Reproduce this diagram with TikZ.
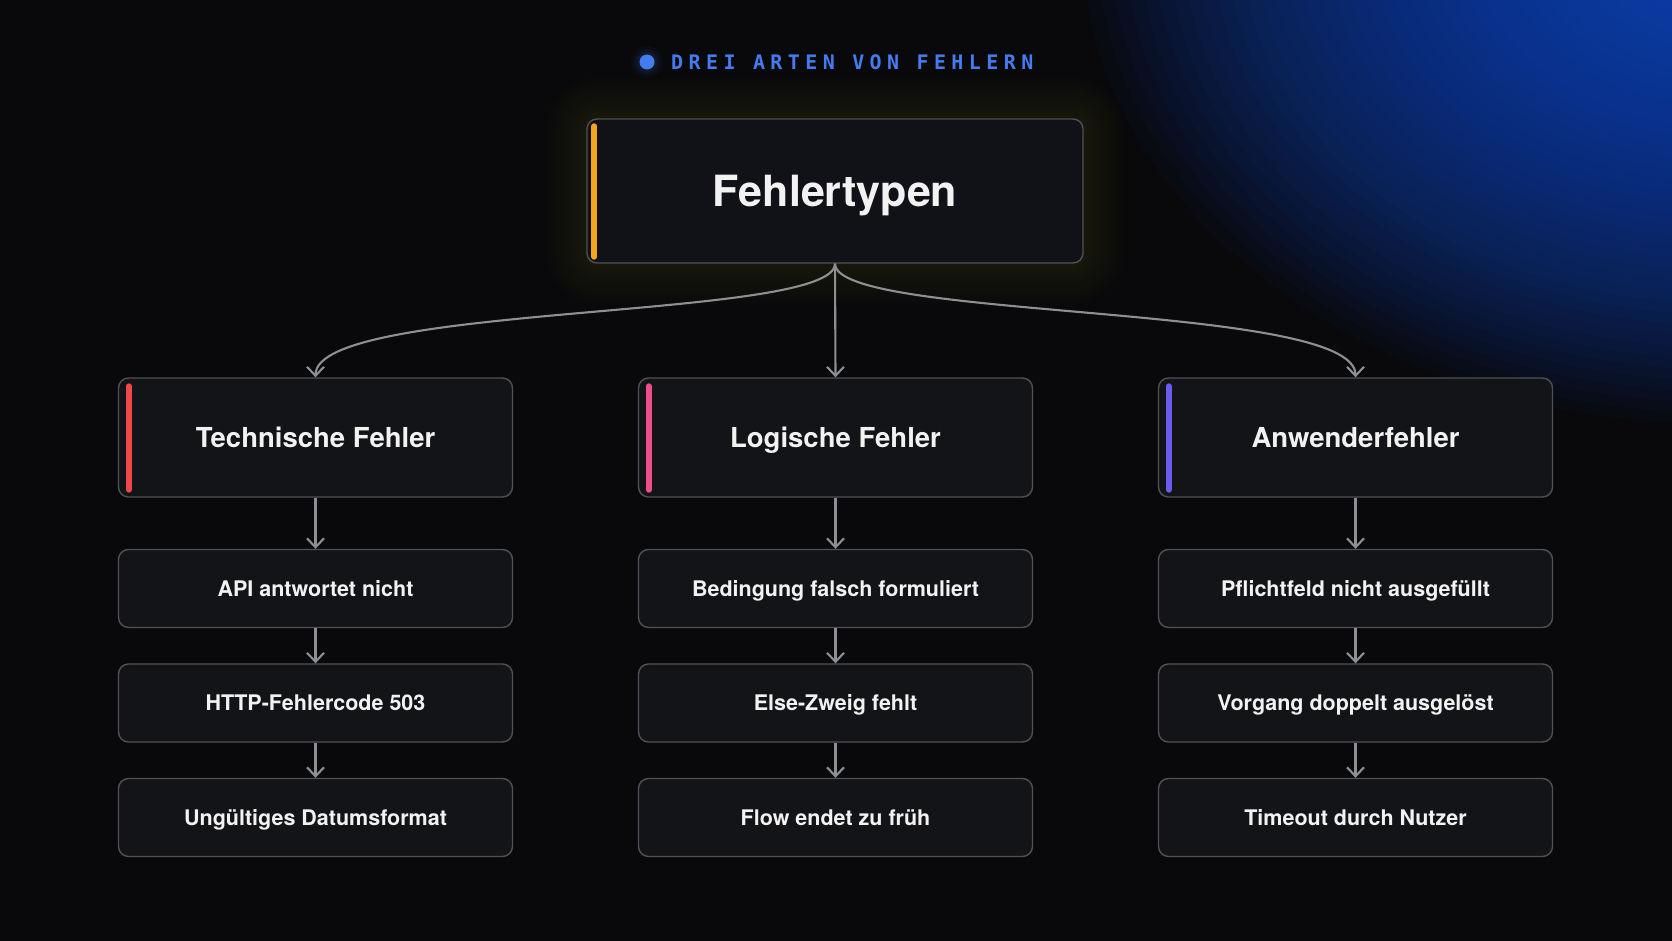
\documentclass[tikz,border=0pt]{standalone}
\usepackage{fontspec}
\setmainfont{TeX Gyre Heros}
\newfontfamily\titlemono{DejaVu Sans Mono}[LetterSpace=27]
\usetikzlibrary{arrows.meta,calc}
\definecolor{bg}{HTML}{09090B}
\definecolor{g0}{HTML}{1352D8}
\definecolor{boxfill}{HTML}{131418}
\definecolor{rootfill}{HTML}{101217}
\definecolor{boxline}{HTML}{505156}
\definecolor{arrowc}{HTML}{8E8F93}
\definecolor{txt}{HTML}{F2F2F2}
\definecolor{titleblue}{HTML}{437CF0}
\definecolor{barorange}{HTML}{F5A51E}
\definecolor{barred}{HTML}{EF4848}
\definecolor{barpink}{HTML}{EE4F8C}
\definecolor{barpurple}{HTML}{6B5BEE}
\definecolor{glowor}{HTML}{F0961E}
\begin{document}
\begin{tikzpicture}[x=1pt,y=-1pt,
  basebox/.style={draw=boxline, line width=1.4pt, fill=boxfill, rounded corners=10pt, inner sep=0pt, text=txt},
  rootbox/.style={basebox, fill=rootfill, minimum width=496pt, minimum height=144pt, font=\bfseries\fontsize{43}{50}\selectfont, text height=41pt, text depth=10pt},
  catbox/.style={basebox, minimum width=394pt, minimum height=119pt, font=\bfseries\fontsize{27.5}{32}\selectfont, text height=26.8pt, text depth=7pt},
  itembox/.style={basebox, minimum width=394pt, minimum height=78pt, font=\bfseries\fontsize{21.5}{26}\selectfont, text height=20.5pt, text depth=5pt},
  bar/.style={line width=6pt, line cap=round},
  conn/.style={draw=arrowc, line width=2.1pt, -{Straight Barb[length=9pt,width=17pt]}}
]
\useasboundingbox (0,0) rectangle (1672,941);
\fill[bg] (0,0) rectangle (1672,941);
\begin{scope}
\clip (0,0) rectangle (1672,941);
\foreach \i in {1,...,44}{
  \fill[g0, opacity=0.04] (1720,-60) ellipse [x radius={14.5pt*\i}, y radius={11pt*\i}];
}
\end{scope}

% title
\foreach \r/\o in {16/0.04,13/0.05,10.5/0.07}{
  \fill[titleblue, opacity=\o] (647,62) circle (\r);
}
\fill[titleblue] (647,62) circle (7.5) coordinate (dot);
\node[anchor=west, inner sep=0pt, text=titleblue, font=\titlemono\bfseries\fontsize{20}{24}\selectfont] (title) at (671,62) {DREI ARTEN VON FEHLERN};

% orange glow around root
\foreach \i in {1,...,14}{
  \fill[glowor, opacity=0.008, rounded corners={12pt+\i*3pt}] ({587-\i*3},{119-\i*3}) rectangle ({1083+\i*3},{263+\i*3});
}

\node[rootbox] (root) at (835,191) {Fehlertypen};
\draw[bar, barorange] ([xshift=8pt,yshift=-8pt]root.north west) -- ([xshift=8pt,yshift=7pt]root.south west);

% categories
\node[catbox] (tech) at (315.5,437.5) {Technische Fehler};
\node[catbox] (logic) at (835.5,437.5) {Logische Fehler};
\node[catbox] (user) at (1355.5,437.5) {Anwenderfehler};
\draw[bar, barred] ([xshift=11pt,yshift=-9pt]tech.north west) -- ([xshift=11pt,yshift=8pt]tech.south west);
\draw[bar, barpink] ([xshift=11pt,yshift=-9pt]logic.north west) -- ([xshift=11pt,yshift=8pt]logic.south west);
\draw[bar, barpurple] ([xshift=11pt,yshift=-9pt]user.north west) -- ([xshift=11pt,yshift=8pt]user.south west);

% items
\node[itembox] (t1) at (315.5,588.5) {API antwortet nicht};
\node[itembox] (t2) at (315.5,703) {HTTP-Fehlercode 503};
\node[itembox] (t3) at (315.5,817.5) {Ungültiges Datumsformat};
\node[itembox] (l1) at (835.5,588.5) {Bedingung falsch formuliert};
\node[itembox] (l2) at (835.5,703) {Else-Zweig fehlt};
\node[itembox] (l3) at (835.5,817.5) {Flow endet zu früh};
\node[itembox] (u1) at (1355.5,588.5) {Pflichtfeld nicht ausgefüllt};
\node[itembox] (u2) at (1355.5,703) {Vorgang doppelt ausgelöst};
\node[itembox] (u3) at (1355.5,817.5) {Timeout durch Nutzer};

% connectors from root
\draw[conn] (root.south) .. controls ($(root.south)+(0,57)$) and ($(tech.north)+(0,-75)$) .. (tech.north);
\draw[conn] (root.south) .. controls ($(root.south)+(0,57)$) and ($(user.north)+(0,-75)$) .. (user.north);
\draw[conn] (root.south) -- (logic.north);

% vertical connectors
\draw[conn] (tech.south) -- (t1.north);
\draw[conn] (t1.south) -- (t2.north);
\draw[conn] (t2.south) -- (t3.north);
\draw[conn] (logic.south) -- (l1.north);
\draw[conn] (l1.south) -- (l2.north);
\draw[conn] (l2.south) -- (l3.north);
\draw[conn] (user.south) -- (u1.north);
\draw[conn] (u1.south) -- (u2.north);
\draw[conn] (u2.south) -- (u3.north);
\end{tikzpicture}
\end{document}
